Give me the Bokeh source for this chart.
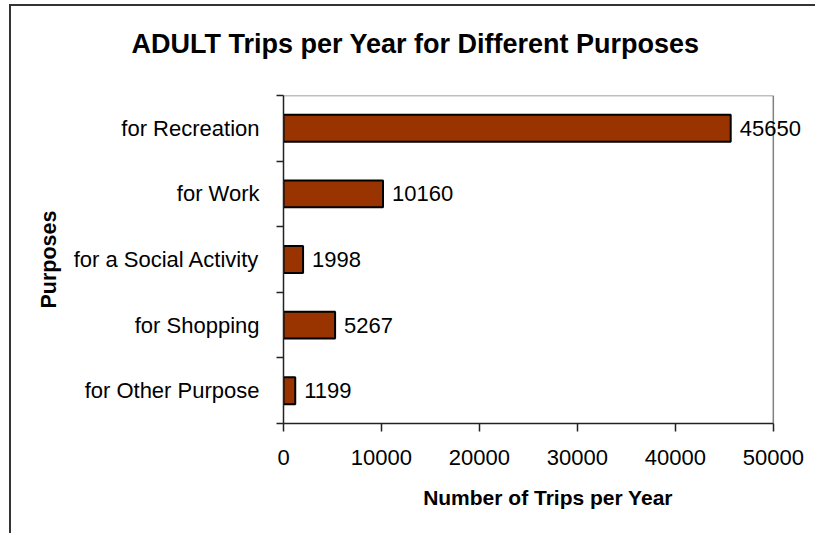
from bokeh.plotting import figure
from bokeh.models import ColumnDataSource, FixedTicker, Range1d, LabelSet, Title
from bokeh.core.properties import value
from bokeh.embed import file_html
from bokeh.resources import INLINE

categories = ["for Recreation", "for Work", "for a Social Activity", "for Shopping", "for Other Purpose"]
trips = [45650, 10160, 1998, 5267, 1199]
x_ticks = [0, 10000, 20000, 30000, 40000, 50000]

n = len(categories)
pos = [n - 1 - i for i in range(n)]
source = ColumnDataSource(dict(cat=categories, y=pos, v=trips, lbl=[str(t) for t in trips]))

FONT = "Liberation Sans"
W, H = 806, 529
x_max = x_ticks[-1]
x_view = x_max * 1.08

p = figure(width=W, height=H, output_backend="svg", toolbar_location=None,
           x_range=Range1d(0, x_view), y_range=Range1d(-0.5, n - 0.5),
           min_border_left=272, min_border_right=5, min_border_top=89, min_border_bottom=112,
           margin=(4, 0, 0, 9),
           styles={"border-left": "2px solid #333333", "border-top": "2px solid #333333"})

p.title.text = "ADULT Trips per Year for Different Purposes"
p.title.text_font = FONT
p.title.text_font_size = "27px"
p.title.text_font_style = "bold"
p.title.text_color = "black"
p.title.text_line_height = 1.0
p.title.align = "left"
p.title.offset = -152
p.title.standoff = 4

# spacer between title and plot area
p.add_layout(Title(text=" ", text_font_size="1px", standoff=32), "above")

# plot-area frame (gray, top and right)
p.segment(x0=[0, x_max], y0=[n - 0.5, -0.5], x1=[x_max, x_max], y1=[n - 0.5, n - 0.5],
          line_color="#808080", line_width=1.5)

p.hbar(y="y", left=0, right="v", height=0.41, source=source,
       fill_color="#993300", line_color="black", line_width=2)

labels = LabelSet(x="v", y="y", text="lbl", source=source, x_offset=9,
                  text_baseline="middle", text_font=value(FONT), text_font_size=value("22px"),
                  text_color="black")
p.add_layout(labels)

p.xgrid.visible = False
p.ygrid.visible = False
p.outline_line_color = None
p.background_fill_color = "white"
p.border_fill_color = "white"

xa = p.xaxis[0]
xa.ticker = FixedTicker(ticks=x_ticks, minor_ticks=[])
xa.bounds = (0, x_max)
xa.axis_label = "Number of Trips per Year"
xa.axis_label_text_font = FONT
xa.axis_label_text_font_size = "21px"
xa.axis_label_text_font_style = "bold"
xa.axis_label_text_color = "black"
xa.axis_label_standoff = 18
xa.major_label_text_font = FONT
xa.major_label_text_font_size = "22px"
xa.major_label_text_color = "black"
xa.major_label_standoff = 18
xa.major_tick_out = 8
xa.major_tick_in = 0
xa.minor_tick_out = 0
xa.axis_line_color = "#222222"
xa.axis_line_width = 1.5
xa.major_tick_line_color = "#222222"
xa.major_tick_line_width = 1.5

ya = p.yaxis[0]
ya.ticker = FixedTicker(ticks=pos, minor_ticks=[k - 0.5 for k in range(n + 1)])
ya.major_label_overrides = {pos[i]: categories[i] for i in range(n)}
ya.axis_label = "Purposes"
ya.axis_label_text_font = FONT
ya.axis_label_text_font_size = "21.5px"
ya.axis_label_text_font_style = "bold"
ya.axis_label_text_color = "black"
ya.axis_label_standoff = 10
ya.major_label_text_font = FONT
ya.major_label_text_font_size = "22px"
ya.major_label_text_color = "black"
ya.major_label_standoff = 17
ya.major_tick_out = 0
ya.major_tick_in = 0
ya.major_tick_line_color = None
ya.minor_tick_out = 7
ya.minor_tick_in = 0
ya.minor_tick_line_color = "#222222"
ya.minor_tick_line_width = 1.5
ya.axis_line_color = "#222222"
ya.axis_line_width = 1.5

open("out.html", "w").write(file_html(p, INLINE))
